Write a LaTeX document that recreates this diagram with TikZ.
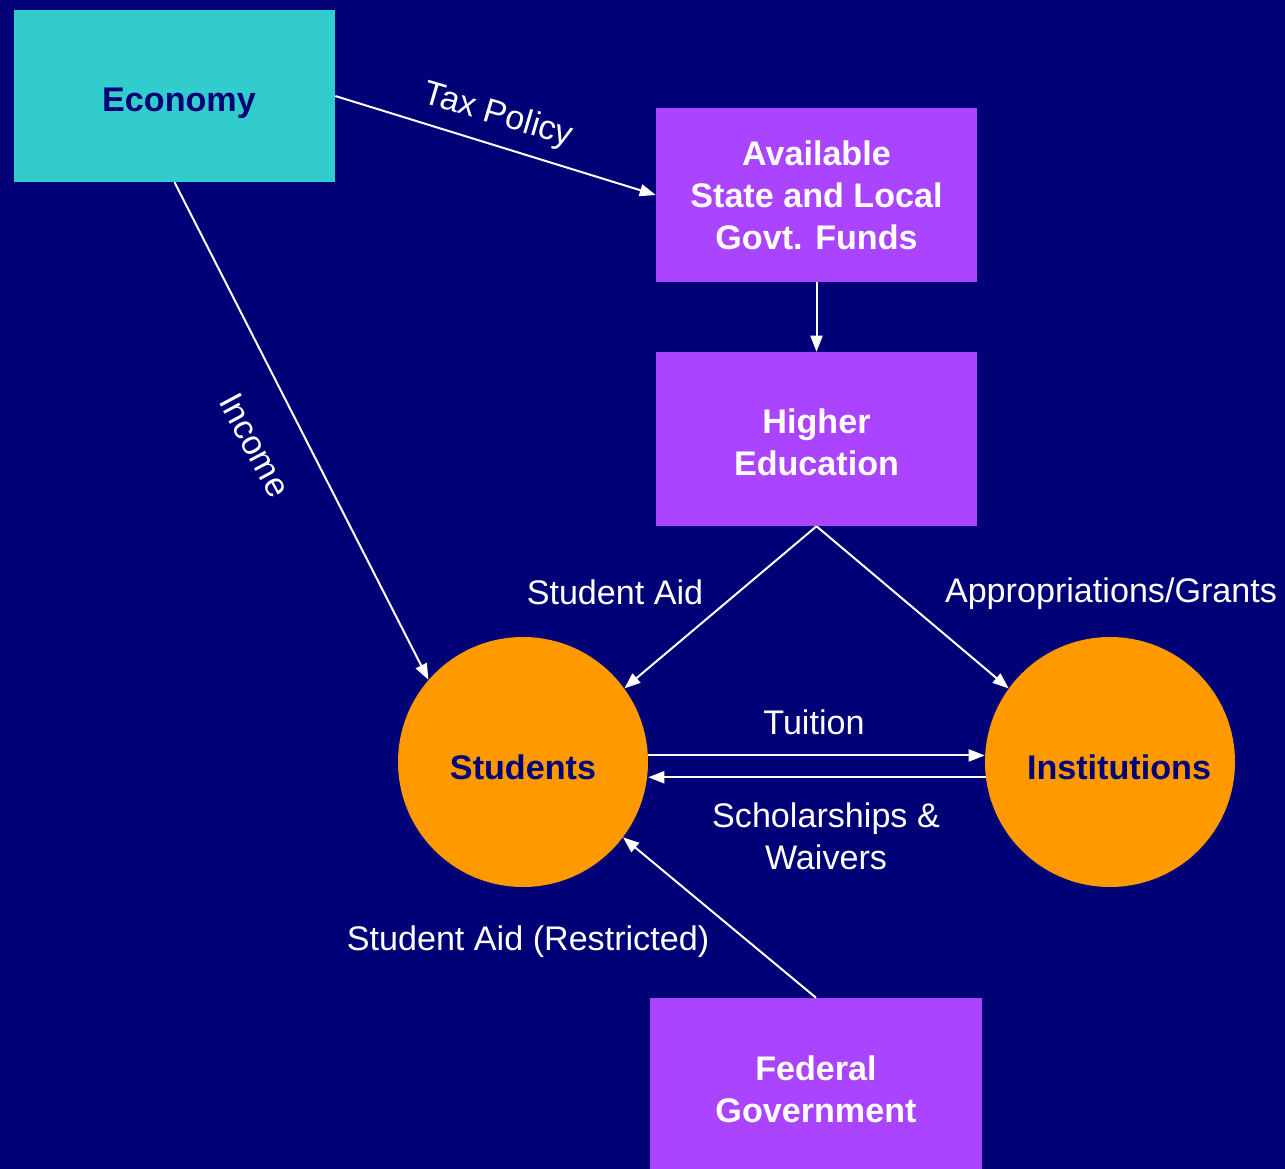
\documentclass[tikz,border=0pt]{standalone}
\usepackage{fontspec}
\setmainfont{Liberation Sans}
\usetikzlibrary{arrows.meta}
\definecolor{bgnavy}{RGB}{0,0,119}
\definecolor{tealbox}{RGB}{51,204,204}
\definecolor{purplebox}{RGB}{170,68,255}
\definecolor{orangecirc}{RGB}{255,153,0}
\tikzset{
  sqbox/.style={rectangle, minimum width=240.75pt, minimum height=130.5pt, inner sep=0pt,
    font=\fontsize{25.6}{31.5}\selectfont\bfseries, align=center},
  purple/.style={sqbox, fill=purplebox, text=white},
  circ/.style={circle, fill=orangecirc, minimum size=187.5pt, inner sep=0pt,
    text height=25.6pt, text depth=0pt,
    font=\fontsize{25.6}{31.5}\selectfont\bfseries, text=bgnavy},
  lbl/.style={text=white, font=\fontsize{25.6}{31.5}\selectfont, align=center, inner sep=0pt},
  conn/.style={draw=white, line width=1.5pt, -{Triangle[length=12pt,width=9pt]}}
}
\begin{document}
\begin{tikzpicture}[x=0.75pt,y=-0.75pt]
\fill[bgnavy] (0,0) rectangle (1285,1169);
\useasboundingbox (0,0) rectangle (1285,1169);
\node[sqbox, fill=tealbox, text=bgnavy, minimum height=129pt, text height=23pt, text depth=0pt] (econ) at (174.5,96) {\hspace*{6.75pt}Economy};
\node[purple] (funds) at (816.5,195) {Available\\State and Local\\Govt. Funds};
\node[purple] (higher) at (816.5,439) {\rule{0pt}{23pt}Higher\\Education};
\node[purple, minimum width=249pt, minimum height=128.25pt] (federal) at (816,1083.5) {\rule{0pt}{27.5pt}Federal\\Government};
\node[circ] (students) at (523,762) {Students};
\node[circ] (inst) at (1110,762) {\hspace*{13.5pt}Institutions};

\draw[conn] (econ.east) -- (funds.west);
\draw[conn] (econ.south) -- (students.139);
\draw[conn] (funds.south) -- (higher.north);
\draw[conn] (higher.south) -- (students.36);
\draw[conn] (higher.south) -- (inst.144);
\draw[conn] (students.3.7) -- (students.3.7 -| inst.west);
\draw[conn] (inst.187) -- (inst.187 -| students.east);
\draw[conn] (federal.north) -- (students.-37);

\node[lbl, rotate=-16.5] (ltax) at (498,116) {Tax Policy};
\node[lbl, rotate=-62] (linc) at (255,445) {Income};
\node[lbl] (lsa) at (615,592) {Student Aid};
\node[lbl] (lapp) at (1111,594) {Appropriations/Grants};
\node[lbl] (ltui) at (814,722) {Tuition};
\node[lbl] (lsch) at (826,836) {Scholarships \&\\Waivers};
\node[lbl] (lsar) at (528,942) {Student Aid (Restricted)};
\end{tikzpicture}
\end{document}
